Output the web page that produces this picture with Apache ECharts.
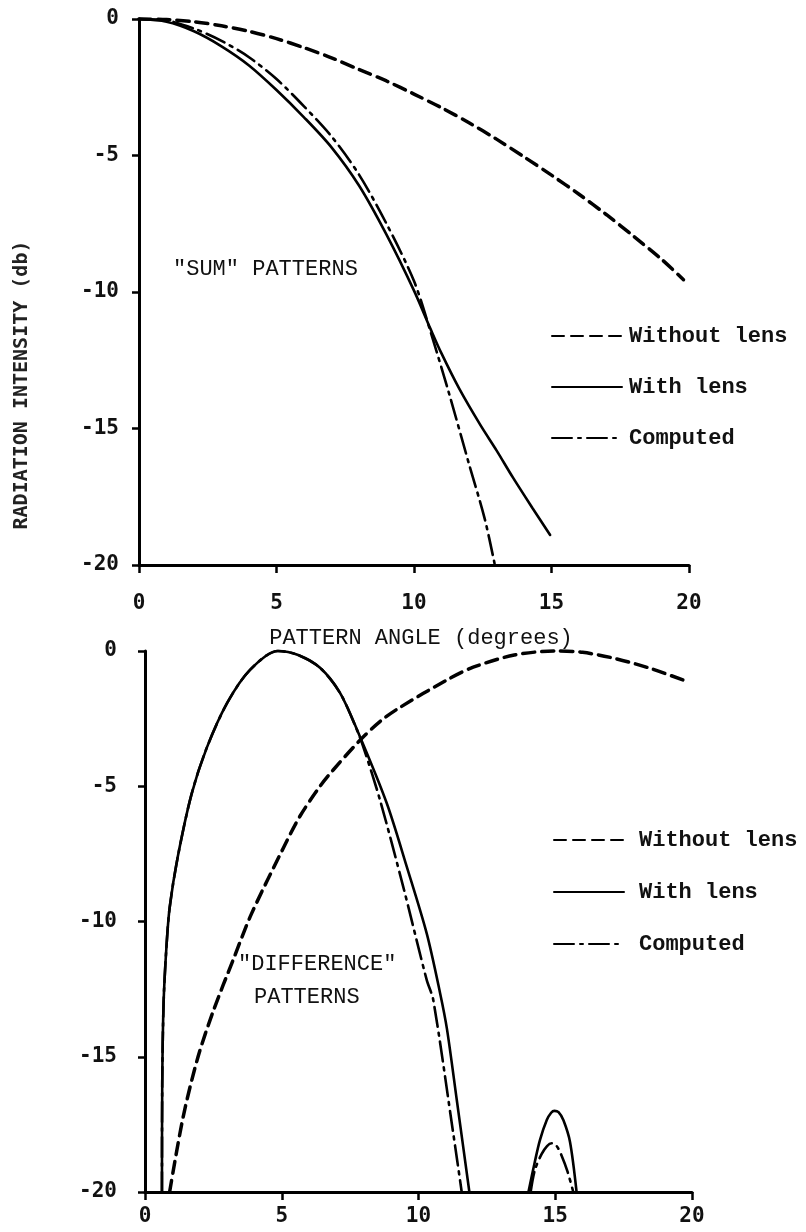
<!DOCTYPE html>
<html>
<head>
<meta charset="utf-8">
<script src="https://cdn.jsdelivr.net/npm/echarts@6/dist/echarts.min.js"></script>
<style>
html,body{margin:0;padding:0;background:#fff;}
#chart{width:806px;height:1232px;}
</style>
</head>
<body>
<div id="chart"></div>
<script>
// ---- Data (x = pattern angle in degrees, y = relative intensity) ----
const xTicks = [0, 5, 10, 15, 20];
const yTicks = [0, -5, -10, -15, -20];

// "SUM" patterns
const sumWithoutLens = [[0,0],[1,-0.02],[2,-0.1],[3,-0.25],[4,-0.45],[5,-0.72],[6,-1.05],[7,-1.42],[8,-1.85],[9,-2.27],[10,-2.75],[11,-3.25],[12,-3.8],[13,-4.4],[14,-5.05],[15,-5.72],[16,-6.42],[17,-7.17],[18,-7.97],[19,-8.8],[19.8,-9.55]];
const sumWithLens = [[0,0],[1,-0.1],[2,-0.45],[3,-1.0],[4,-1.7],[5,-2.6],[6,-3.6],[7,-4.7],[8,-6.1],[9,-7.9],[10,-9.95],[10.6,-11.35],[11,-12.25],[11.65,-13.55],[12.4,-14.85],[13,-15.8],[13.6,-16.8],[14.3,-17.9],[14.95,-18.9]];
const sumComputed = [[0,0],[1,-0.05],[2,-0.35],[3,-0.8],[4,-1.4],[5,-2.2],[6,-3.2],[7,-4.3],[8,-5.7],[9,-7.5],[10,-9.6],[10.6,-11.45],[11.27,-13.7],[12.0,-16.3],[12.57,-18.3],[12.94,-20]];

// "DIFFERENCE" patterns
const diffWithoutLens = [[0.9,-20],[1.4,-17.2],[1.94,-15],[2.5,-13.3],[3.23,-11.4],[3.9,-9.7],[5.05,-7.3],[5.67,-6.1],[6.4,-5.0],[6.88,-4.4],[7.86,-3.3],[8.6,-2.6],[9.3,-2.1],[11.04,-1.07],[12.0,-0.6],[13.5,-0.15],[15,0],[16,-0.05],[17.2,-0.28],[18.5,-0.65],[19.88,-1.15]];
const diffWithLens = [[0.62,-20],[0.63,-16],[0.68,-13],[0.78,-11],[0.9,-9.5],[1.2,-7.6],[1.7,-5.3],[2.25,-3.6],[3.0,-1.93],[3.84,-0.7],[4.86,0],[5.6,-0.15],[6.4,-0.62],[7.13,-1.55],[7.86,-3.17],[8.84,-5.63],[9.57,-7.97],[10.3,-10.44],[10.79,-12.65],[11.04,-13.97],[11.4,-16.6],[11.86,-20],
  null,[14.02,-20],[14.25,-18.9],[14.44,-18.08],[14.69,-17.34],[14.85,-17.07],[14.97,-17.0],[15.12,-17.05],[15.3,-17.35],[15.54,-18.15],[15.78,-20]];
const diffComputed = [[0.62,-20],[0.63,-16],[0.68,-13],[0.78,-11],[0.9,-9.5],[1.2,-7.6],[1.7,-5.3],[2.25,-3.6],[3.0,-1.93],[3.84,-0.7],[4.86,0],[5.6,-0.15],[6.4,-0.62],[7.13,-1.55],[7.7,-2.8],[7.98,-3.54],[8.59,-5.5],[9.44,-8.71],[10.3,-12.16],[10.54,-12.9],[11.27,-17.83],[11.58,-20],
  null,[14.1,-20],[14.25,-19.2],[14.5,-18.6],[14.7,-18.3],[14.87,-18.2],[15.05,-18.3],[15.23,-18.65],[15.45,-19.25],[15.66,-20]];

const seriesNames = ['Without lens', 'With lens', 'Computed'];

// ---- Styles ----
const tickFont = 'DejaVu Sans Mono';
const textFont = 'Liberation Mono';
const styles = {
  'Without lens': {type: [12, 7], width: 3.5},
  'With lens': {type: 'solid', width: 2.6},
  'Computed': {type: [20, 6, 3, 6], width: 2.6}
};

function mkXAxis(gridIndex, margin, name) {
  return {
    type: 'value', gridIndex: gridIndex, min: 0, max: 20, interval: 5,
    axisLine: {show: true, onZero: false, lineStyle: {color: '#000', width: 3}},
    axisTick: {show: true, length: 8, lineStyle: {color: '#000', width: 2.5}},
    axisLabel: {color: '#111', fontFamily: tickFont, fontWeight: 'bold', fontSize: 21, margin: margin},
    splitLine: {show: false},
    name: name || '', nameLocation: 'middle', nameGap: 62,
    nameTextStyle: {color: '#111', fontFamily: textFont, fontSize: 22, padding: [0, 0, 0, 14]}
  };
}
function mkYAxis(gridIndex, margin) {
  return {
    type: 'value', gridIndex: gridIndex, min: -20, max: 0, interval: 5,
    axisLine: {show: true, onZero: false, lineStyle: {color: '#000', width: 3}},
    axisTick: {show: true, length: 7, lineStyle: {color: '#000', width: 2.5}},
    axisLabel: {color: '#111', fontFamily: tickFont, fontWeight: 'bold', fontSize: 21, margin: margin},
    splitLine: {show: false}
  };
}
function mkSeries(name, data, idx) {
  return {
    name: name, type: 'line', xAxisIndex: idx, yAxisIndex: idx,
    data: data, symbol: 'none', smooth: 0.3, clip: false, connectNulls: false,
    lineStyle: {color: '#000', width: styles[name].width, type: styles[name].type, cap: 'round'},
    itemStyle: {color: '#000'}
  };
}
function mkLegend(left, top, gap, textPad) {
  return {
    orient: 'vertical', left: left, top: top, data: seriesNames,
    itemWidth: 70, itemHeight: 20, itemGap: gap,
    itemStyle: {opacity: 0, borderWidth: 0},
    textStyle: {color: '#111', fontFamily: textFont, fontWeight: 'bold', fontSize: 22, padding: [0, 0, 0, textPad]},
    selectedMode: false
  };
}

const chart = echarts.init(document.getElementById('chart'), null, {renderer: 'canvas'});
chart.setOption({
  backgroundColor: '#fff',
  animation: false,
  grid: [
    {left: 139, right: 117, top: 19, height: 546},
    {left: 145, right: 114, top: 651, height: 541}
  ],
  xAxis: [mkXAxis(0, 28, 'PATTERN ANGLE (degrees)'), mkXAxis(1, 14)],
  yAxis: [mkYAxis(0, 20), mkYAxis(1, 28)],
  legend: [mkLegend(546, 320, 29, 2), mkLegend(548, 824, 30, 10)],
  series: [
    mkSeries('Without lens', sumWithoutLens, 0),
    mkSeries('With lens', sumWithLens, 0),
    mkSeries('Computed', sumComputed, 0),
    mkSeries('Without lens', diffWithoutLens, 1),
    mkSeries('With lens', diffWithLens, 1),
    mkSeries('Computed', diffComputed, 1)
  ],
  graphic: [
    {type: 'text', left: 173, top: 258, style: {text: '"SUM" PATTERNS', font: '22px "Liberation Mono"', fill: '#111'}},
    {type: 'text', left: 238, top: 953, style: {text: '"DIFFERENCE"', font: '22px "Liberation Mono"', fill: '#111'}},
    {type: 'text', left: 254, top: 986, style: {text: 'PATTERNS', font: '22px "Liberation Mono"', fill: '#111'}},
    {type: 'text', x: 22, y: 385, rotation: Math.PI / 2,
      style: {text: 'RADIATION INTENSITY (db)', font: 'bold 20px "DejaVu Sans Mono"', fill: '#222', align: 'center', verticalAlign: 'middle'}}
  ]
});
</script>
</body>
</html>
